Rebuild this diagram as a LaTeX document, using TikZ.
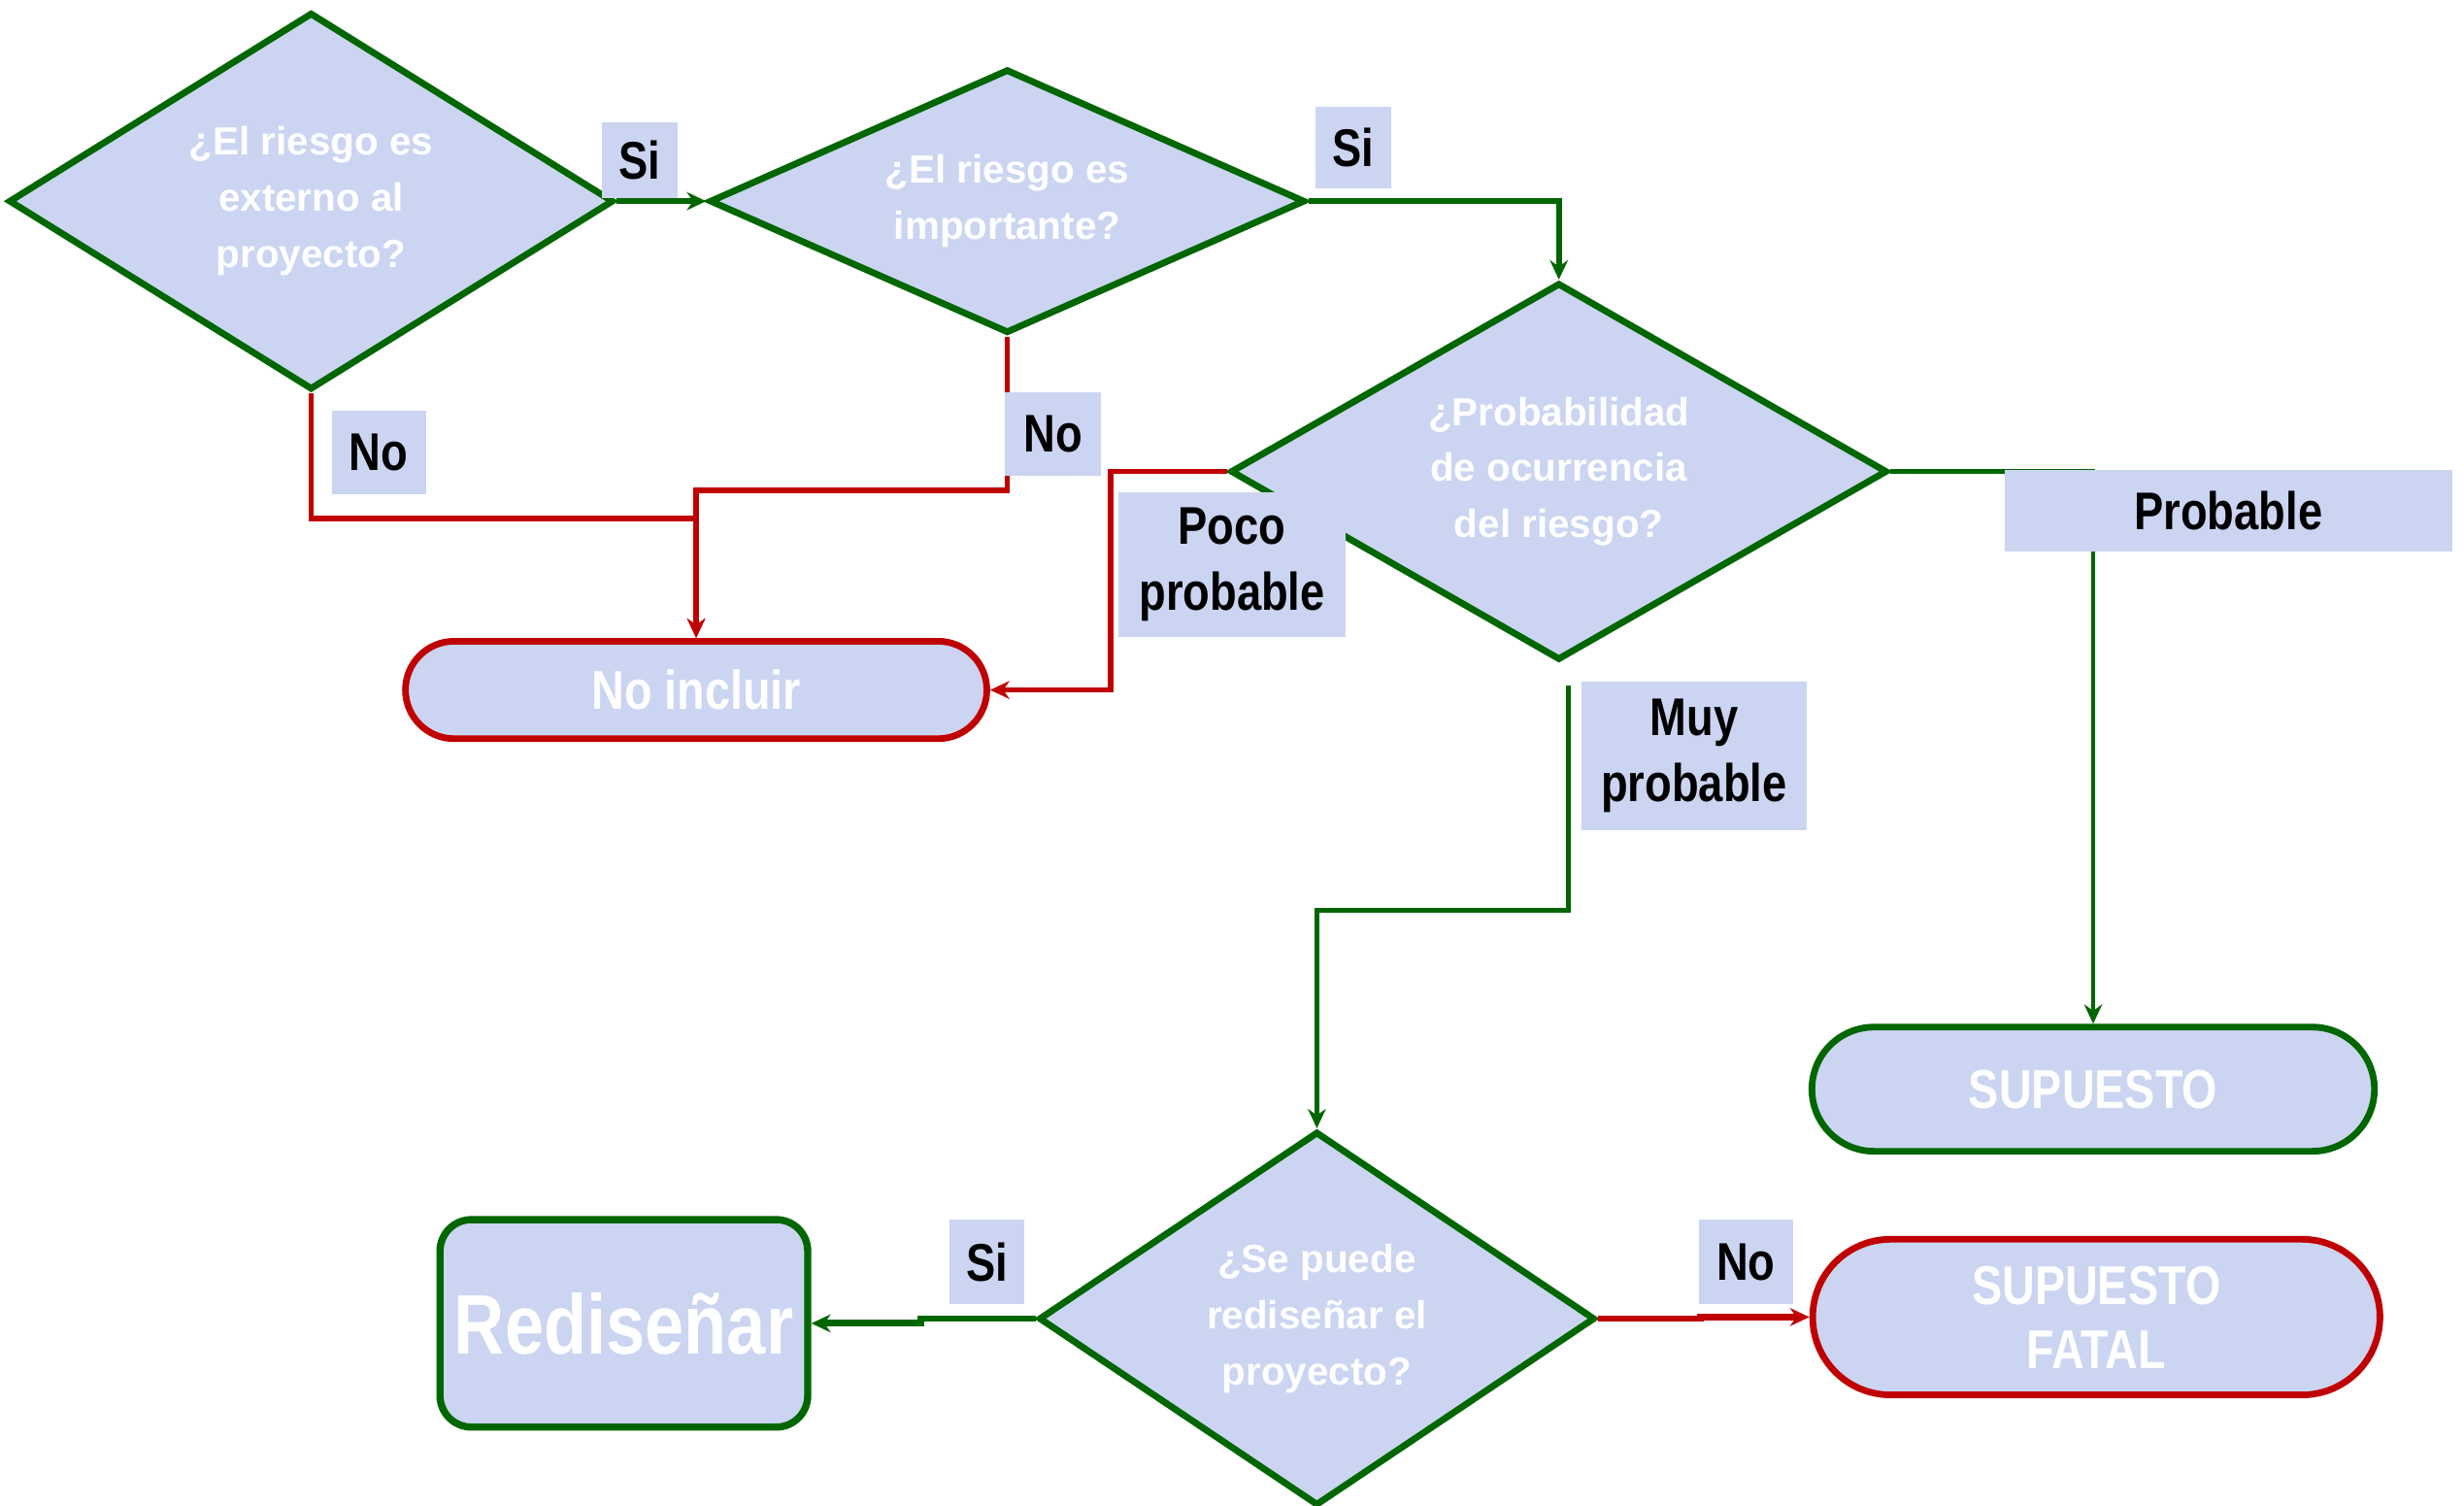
\documentclass[tikz,border=0pt]{standalone}
\usepackage{fontspec}
\setmainfont{Liberation Sans}
\newfontfamily\narrowsf[FakeStretch=0.83]{Liberation Sans}
\usetikzlibrary{shapes.geometric,shapes.misc,arrows.meta,positioning}
\definecolor{riskgreen}{RGB}{0,102,0}
\definecolor{riskred}{RGB}{192,0,0}
\definecolor{riskfill}{RGB}{203,213,241}

\begin{document}
\begin{tikzpicture}[node distance=2.6cm, >={Stealth[length=7pt,width=6.5pt]}]
    \tikzstyle{cond}=[diamond, draw=riskgreen, line width=2.4pt, fill=riskfill, inner sep=1pt, align=center, text=white, font=\fontsize{14.2}{20.3}\selectfont\bfseries]
    \tikzstyle{term}=[rounded rectangle, line width=2.4pt, fill=riskfill, inner sep=2pt, align=center, text=white, font=\narrowsf\fontsize{19.8}{23.2}\selectfont\bfseries]
    \tikzstyle{lbl}=[fill=riskfill, inner sep=0pt, align=center, font=\narrowsf\fontsize{19.2}{23.8}\selectfont\bfseries]
    \tikzstyle{yesarr}=[->, draw=riskgreen, line width=2pt]
    \tikzstyle{noarr}=[->, draw=riskred, line width=2pt]

    \useasboundingbox (0,0) rectangle (31.36,-19.16);

    % decisiones
    \node[cond, minimum width=7.7cm, minimum height=4.8cm, aspect=1.6] (extern) at (3.96,-2.56) {¿El riesgo es\\ externo al\\ proyecto?};
    \node[cond, right of=extern, node distance=8.86cm, minimum width=7.58cm, minimum height=3.36cm, aspect=2.26] (import) {¿El riesgo es\\ importante?};
    \node[cond, minimum width=8.36cm, minimum height=4.8cm, aspect=1.74] (prob) at (19.84,-6.0) {¿Probabilidad\\ de ocurrencia\\ del riesgo?};
    \node[cond, minimum width=7.08cm, minimum height=4.76cm, aspect=1.49] (redesign) at (16.76,-16.78) {¿Se puede\\ rediseñar el\\ proyecto?};

    % resultados
    \node[term, draw=riskred, minimum width=7.54cm, minimum height=1.24cm] (exclude) at (8.86,-8.78) {No incluir};
    \node[term, draw=riskgreen, minimum width=7.3cm, minimum height=1.58cm] (assume) at (26.64,-13.86) {SUPUESTO};
    \node[term, draw=riskred, below of=assume, node distance=2.9cm, xshift=0.04cm, minimum width=7.36cm, minimum height=1.98cm] (fatal) {SUPUESTO\\ FATAL};
    \node[draw=riskgreen, line width=2.6pt, fill=riskfill, rounded corners=0.4cm, inner sep=2pt, text=white, minimum width=4.68cm, minimum height=2.64cm, font=\narrowsf\fontsize{30.6}{36}\selectfont\bfseries] (redo) at (7.94,-16.84) {Rediseñar};

    \draw[yesarr] (extern.east) -- (import.west);
    \draw[yesarr] (import.east) -| (prob.north);
    \draw[noarr] (extern.south) -- ++(0,-1.6) -| (exclude.north);
    \draw[noarr] (import.south) -- ++(0,-1.96) -| (exclude.north);
    \draw[noarr] (prob.west) -- ++(-1.48,0) |- (exclude.east);
    \draw[yesarr, line width=1.7pt] (prob.east) -| (assume.north);
    \draw[yesarr, line width=1.7pt] ([shift={(0.12,-0.28)}]prob.south) -- ++(0,-2.86) -| (redesign.north);
    \draw[yesarr, line width=2.4pt] (redesign.west) -- ++(-1.46,0) |- (redo.east);
    \draw[noarr, line width=2.4pt] (redesign.east) -- ++(1.3,0) |- (fatal.west);

    % etiquetas
    \node[lbl, minimum width=0.96cm, minimum height=0.96cm] (siext) at (8.14,-2.04) {Si};
    \node[lbl, minimum width=0.96cm, minimum height=1.04cm] (siimp) at (17.22,-1.88) {Si};
    \node[lbl, minimum width=1.2cm, minimum height=1.06cm] (noext) at (4.82,-5.76) {No};
    \node[lbl, minimum width=1.22cm, minimum height=1.06cm] (noimp) at (13.4,-5.52) {No};
    \node[lbl, minimum width=2.88cm, minimum height=1.84cm] (poco) at (15.68,-7.18) {Poco\\ probable};
    \node[lbl, minimum width=5.7cm, minimum height=1.04cm] (probable) at (28.36,-6.5) {Probable};
    \node[lbl, minimum width=2.86cm, minimum height=1.88cm] (muy) at (21.56,-9.62) {Muy\\ probable};
    \node[lbl, minimum width=0.96cm, minimum height=1.08cm] (siredo) at (12.56,-16.06) {Si};
    \node[lbl, minimum width=1.2cm, minimum height=1.08cm] (noredo) at (22.22,-16.06) {No};
\end{tikzpicture}
\end{document}
